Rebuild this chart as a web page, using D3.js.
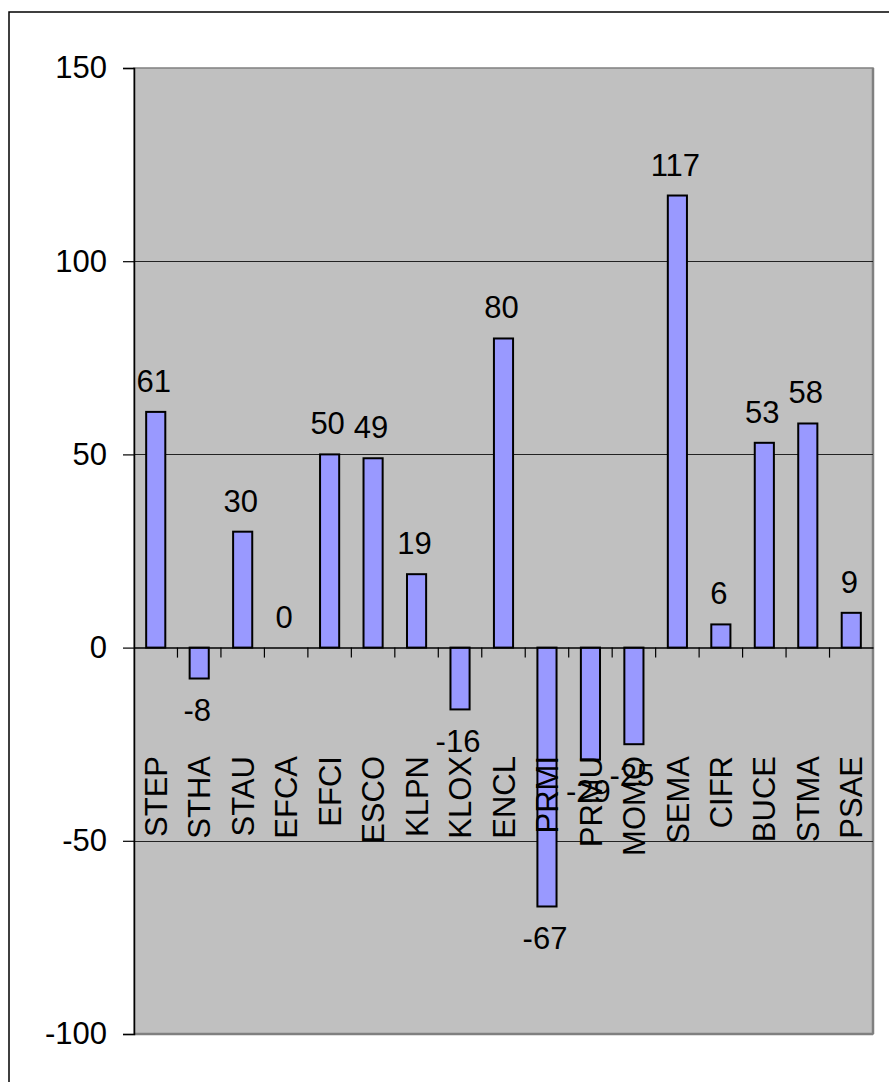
<!DOCTYPE html>
<html>
<head>
<meta charset="utf-8">
<script src="https://cdn.jsdelivr.net/npm/d3@7"></script>
<style>
  html, body { margin: 0; padding: 0; background: #ffffff; }
  svg { display: block; }
  text { font-family: "Liberation Sans", Arial, sans-serif; fill: #000; }
</style>
</head>
<body>
<script>
// Category codes along the x axis
const categories = ["STEP","STHA","STAU","EFCA","EFCI","ESCO","KLPN","KLOX","ENCL","PRMI","PRMU","MOMO","SEMA","CIFR","BUCE","STMA","PSAE"];
// Bar values, one per category
const values = [61, -8, 30, 0, 50, 49, 19, -16, 80, -67, -29, -25, 117, 6, 53, 58, 9];
// Value axis ticks
const yTicks = [-100, -50, 0, 50, 100, 150];

const W = 889, H = 1082;
const plot = { left: 134, right: 873, top: 68, bottom: 1034 };
const fontSize = 31;

const svg = d3.select("body").append("svg")
  .attr("width", W).attr("height", H);

// Chart frame (continues past the right and bottom edges of the page)
svg.append("rect")
  .attr("x", 9).attr("y", 12)
  .attr("width", W + 20).attr("height", H + 20)
  .attr("fill", "#fff").attr("stroke", "#000").attr("stroke-width", 1.5);

const data = categories.map((c, i) => ({ cat: c, val: values[i] }));

const x = d3.scaleBand()
  .domain(categories)
  .range([plot.left, plot.right])
  .paddingInner(0.56)
  .paddingOuter(0.28);

const y = d3.scaleLinear()
  .domain([d3.min(yTicks), d3.max(yTicks)])
  .range([plot.bottom, plot.top]);

// Plot area background with its shaded edge
svg.append("rect")
  .attr("x", plot.left + 1).attr("y", plot.top)
  .attr("width", plot.right - plot.left).attr("height", plot.bottom - plot.top)
  .attr("fill", "#e6e6e6");
svg.append("rect")
  .attr("x", plot.left).attr("y", plot.top)
  .attr("width", plot.right - plot.left).attr("height", plot.bottom - plot.top)
  .attr("fill", "#c0c0c0").attr("stroke", "#808080").attr("stroke-width", 1.5);
svg.append("line")
  .attr("x1", plot.right).attr("x2", plot.right)
  .attr("y1", plot.top).attr("y2", plot.bottom)
  .attr("stroke", "#808080").attr("stroke-width", 2.5);
svg.append("line")
  .attr("x1", plot.left).attr("x2", plot.right)
  .attr("y1", plot.bottom).attr("y2", plot.bottom)
  .attr("stroke", "#808080").attr("stroke-width", 2.5);

// Horizontal gridlines
svg.append("g").selectAll("line")
  .data(yTicks.filter(t => t !== d3.min(yTicks) && t !== d3.max(yTicks) && t !== 0))
  .join("line")
  .attr("x1", plot.left).attr("x2", plot.right)
  .attr("y1", d => Math.round(y(d)) + 0.5).attr("y2", d => Math.round(y(d)) + 0.5)
  .attr("stroke", "#222").attr("stroke-width", 1);

// Bars
svg.append("g").selectAll("rect")
  .data(data)
  .join("rect")
  .attr("x", d => x(d.cat))
  .attr("width", x.bandwidth())
  .attr("y", d => y(Math.max(0, d.val)))
  .attr("height", d => Math.abs(y(d.val) - y(0)))
  .attr("fill", "#9999ff")
  .attr("stroke", "#000").attr("stroke-width", 2);

// Category axis through zero, ticks between categories
const xAxis = d3.axisBottom(x).tickSize(0).tickFormat("");
const gx = svg.append("g").attr("transform", `translate(0,${y(0)})`).call(xAxis);
gx.select(".domain").attr("stroke", "#000").attr("stroke-width", 1.5);
const step = x.step();
const boundaries = d3.range(1, categories.length).map(i => plot.left + i * step);
gx.selectAll(".sep").data(boundaries).join("line")
  .attr("class", "sep")
  .attr("x1", d => d).attr("x2", d => d)
  .attr("y1", 0).attr("y2", 10)
  .attr("stroke", "#000").attr("stroke-width", 1.2);

// Value axis
const yAxis = d3.axisLeft(y).tickValues(yTicks).tickSize(11).tickPadding(16).tickFormat(d => String(d));
const gy = svg.append("g").attr("transform", `translate(${plot.left},0)`).call(yAxis);
gy.select(".domain").attr("stroke", "#000").attr("stroke-width", 1.5);
gy.selectAll(".tick line").attr("stroke", "#000").attr("stroke-width", 1.2);
gy.selectAll(".tick text")
  .attr("font-size", fontSize)
  .attr("font-family", "Liberation Sans, Arial, sans-serif")
  .attr("fill", "#000");

// Category labels, rotated, ending at a common line
svg.append("g").selectAll("text")
  .data(data)
  .join("text")
  .attr("transform", d => `translate(${x(d.cat) + x.bandwidth() / 2},756) rotate(-90)`)
  .attr("text-anchor", "end")
  .attr("dy", "0.36em")
  .attr("font-size", fontSize)
  .text(d => d.cat);

// Value labels above positive bars, below negative ones
svg.append("g").selectAll("text")
  .data(data)
  .join("text")
  .attr("x", d => x(d.cat) + x.bandwidth() / 2 - 2)
  .attr("y", d => d.val >= 0 ? y(d.val) - 20 : y(d.val) + 20 + fontSize * 0.716)
  .attr("text-anchor", "middle")
  .attr("font-size", fontSize)
  .text(d => String(d.val));
</script>
</body>
</html>
